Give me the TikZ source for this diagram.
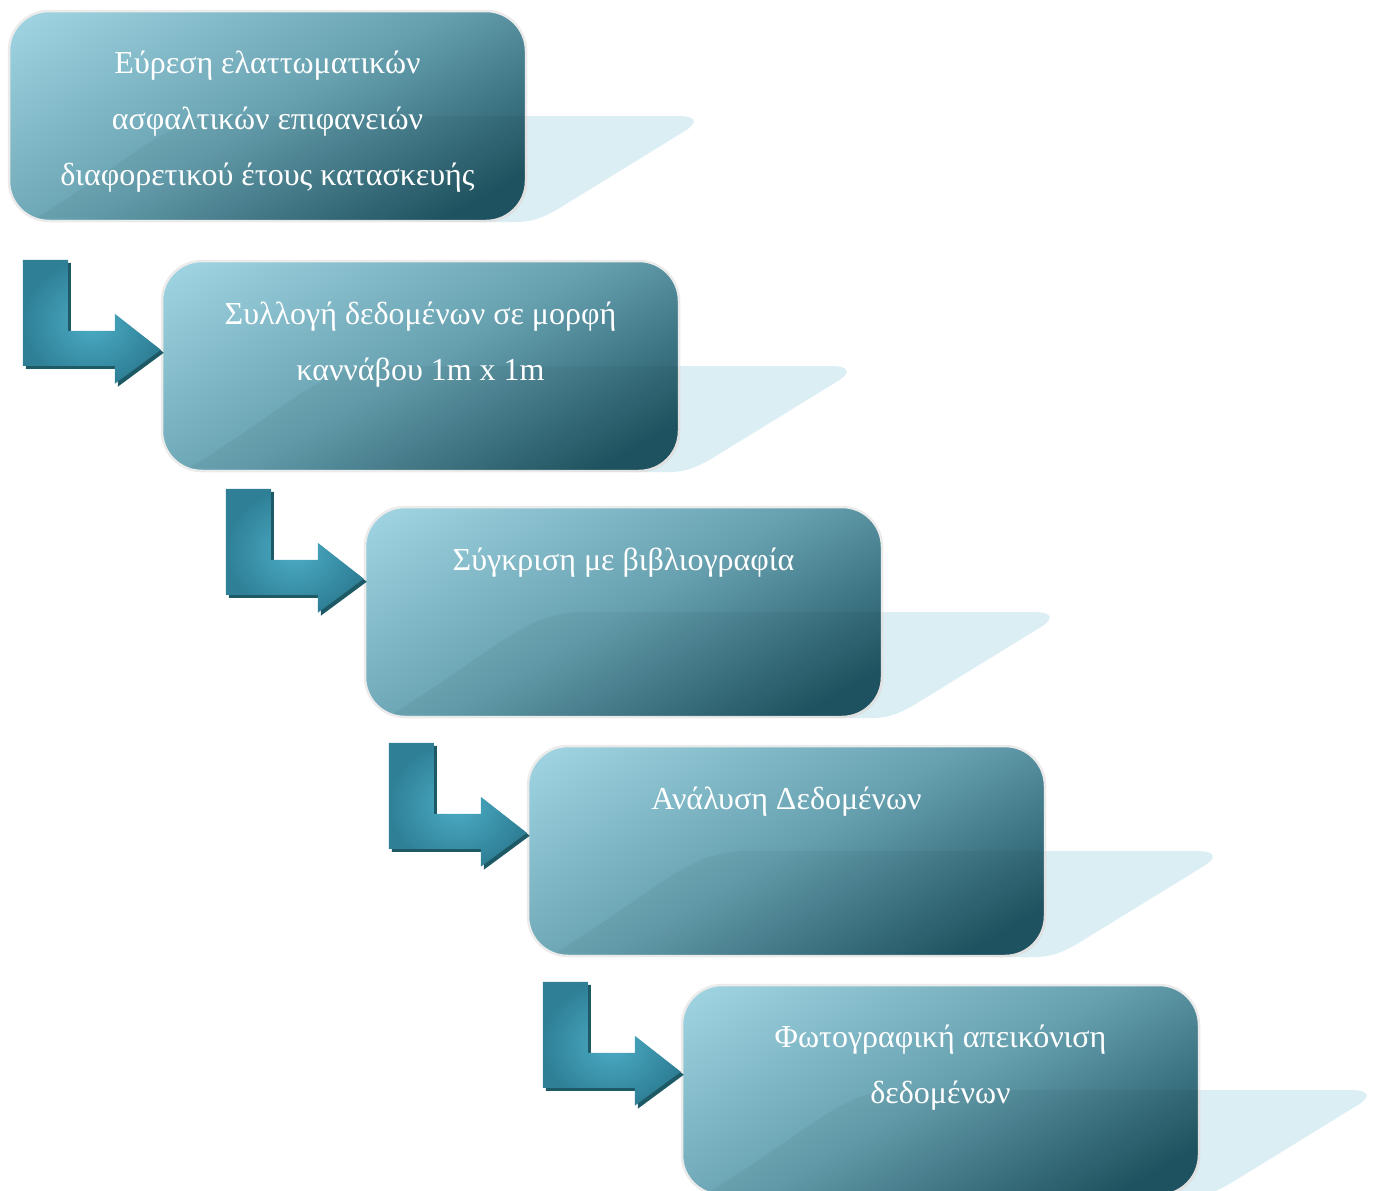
\documentclass[tikz,border=0pt]{standalone}
\usepackage{fontspec}
\setmainfont{Liberation Serif}
\usetikzlibrary{calc}
\pgfdeclarelayer{background}
\pgfsetlayers{background,main}

\definecolor{boxlight}{HTML}{A0D4E2}
\definecolor{boxmid}{HTML}{66A0AF}
\definecolor{boxdark}{HTML}{215664}
\definecolor{boxrim}{HTML}{EBEBEB}
\definecolor{reflectblue}{HTML}{DBEEF4}
\definecolor{arrowlight}{HTML}{4BADC5}
\definecolor{arrowdark}{HTML}{2F8097}
\definecolor{arrowshadow}{HTML}{1E5966}

\pgfdeclareverticalshading{boxgrad}{100bp}{color(0bp)=(boxdark); color(34bp)=(boxdark);
  color(50bp)=(boxmid); color(69bp)=(boxlight); color(100bp)=(boxlight)}

\tikzset{
  stepbox/.style={rounded corners=40pt, minimum width=517pt, minimum height=210pt,
    draw=boxrim, line width=2.5pt,
    path picture={\shade[shading=boxgrad, shading angle=30]
      ($(path picture bounding box.center)+(-280,-280)$) rectangle
      ($(path picture bounding box.center)+(280,280)$);}},
  steptext/.style={text=white, font=\fontsize{32}{56}\selectfont, align=center,
    anchor=north, inner sep=0pt},
  reflectfill/.style={fill=reflectblue},
  glossfill/.style={fill=black, fill opacity=0.04},
  arrowbody/.style={shading=radial, inner color=arrowlight, outer color=arrowdark},
}

% pale tail behind each box
\newcommand\reflectpath[1]{($(#1.south west)+(28,-4)$)
  .. controls ($(#1.west)+(130,40)$) and ($(#1.west)+(160,0)$) .. ($(#1.west)+(220,0)$)
  -- ($(#1.east)+(150,0)$)
  .. controls ($(#1.east)+(172,0)$) and ($(#1.east)+(170,8)$) .. ($(#1.east)+(156,16)$)
  -- ($(#1.south east)+(32,-14)$)
  .. controls ($(#1.south east)+(10,-1)$) and ($(#1.south east)+(0,0)$) .. ($(#1.south east)+(-20,0)$)
  -- cycle}

% bent arrow, tip at the origin
\newcommand\arrowpath{(-138,-90) -- (-93,-90) -- (-93,-19) -- (-46,-19) -- (-46,-36)
  -- (0,0) -- (-46,34) -- (-46,16) -- (-138,16) -- cycle}

\begin{document}
\begin{tikzpicture}[x=1pt, y=-1pt]
  \useasboundingbox (0,0) rectangle (1377,1191);

  \node[stepbox] (box1) at (267.5,116) {};
  \node[stepbox] (box2) at (420.5,366) {};
  \node[stepbox] (box3) at (623.5,612) {};
  \node[stepbox] (box4) at (786.5,851) {};
  \node[stepbox] (box5) at (940.5,1090) {};

  \foreach \b in {box1,box2,box3,box4,box5} {
    \begin{pgfonlayer}{background}
      \path[reflectfill] \reflectpath{\b};
    \end{pgfonlayer}
    \begin{scope}
      \clip[rounded corners=40pt] (\b.south west) rectangle (\b.north east);
      \path[glossfill] \reflectpath{\b};
    \end{scope}
  }

  \node[steptext] (text1) at ($(box1.north)+(0,41)$)
    {Εύρεση ελαττωματικών\\ασφαλτικών επιφανειών\\διαφορετικού έτους κατασκευής};
  \node[steptext] (text2) at ($(box2.north)+(0,42)$)
    {Συλλογή δεδομένων σε μορφή\\καννάβου 1m x 1m};
  \node[steptext] (text3) at ($(box3.north)+(0,42)$)
    {Σύγκριση με βιβλιογραφία};
  \node[steptext] (text4) at ($(box4.north)+(0,42)$)
    {Ανάλυση Δεδομένων};
  \node[steptext] (text5) at ($(box5.north)+(0,41)$)
    {Φωτογραφική απεικόνιση\\δεδομένων};

  \coordinate (tip1) at ($(box2.north west)+(0,90)$);
  \coordinate (tip2) at ($(box3.north west)+(0,73)$);
  \coordinate (tip3) at ($(box4.north west)+(0,88)$);
  \coordinate (tip4) at ($(box5.north west)+(0,88)$);

  \foreach \t in {tip1,tip2,tip3,tip4} {
    \fill[arrowshadow, shift={(\t)}, xshift=3pt, yshift=-3pt] \arrowpath;
    \shade[arrowbody, shift={(\t)}] \arrowpath;
  }
\end{tikzpicture}
\end{document}
